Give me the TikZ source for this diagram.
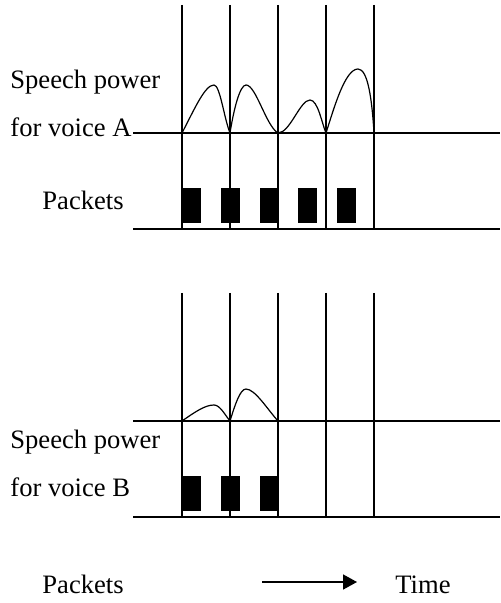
\documentclass[tikz,border=0pt]{standalone}
\usepackage{fontspec}
\setmainfont{Liberation Serif}
\usetikzlibrary{arrows.meta,positioning}
\tikzset{
 rule/.style={line width=0.6pt,draw=black},
 pulse/.style={line width=0.6pt,draw=black,line join=round},
 pkt/.style={fill=black,draw=none},
 lbl/.style={font=\fontsize{13.3}{15}\selectfont,inner sep=0pt,anchor=base west},
 arrow/.style={-{Triangle[length=7pt,width=7.5pt]},line width=0.8pt,draw=black}
}

\begin{document}
\begin{tikzpicture}[x=0.5pt,y=-0.5pt]
 \useasboundingbox (0,0) rectangle (500,603);
 % voice A
 \foreach \x in {182,230,278,326,374}
   \draw[rule] (\x,5) -- (\x,229);
 \draw[rule] (133,133) -- (500,133);
 \draw[rule] (133,229) -- (500,229);
 \foreach \x in {182,221,260,298,337}
   \fill[pkt] (\x,188) rectangle ++(19,35);
 \draw[pulse] (182,133) .. controls (195,108) and (205,85) .. (214,85)
   .. controls (220,85) and (224,118) .. (230,133);
 \draw[pulse] (230,133) .. controls (234,108) and (240,85) .. (246,85)
   .. controls (256,85) and (266,126) .. (278,133);
 \draw[pulse] (278,133) .. controls (290,133) and (300,100) .. (310,100)
   .. controls (318,100) and (322,124) .. (326,133);
 \draw[pulse] (326,133) .. controls (334,108) and (345,69) .. (358,69)
   .. controls (368,69) and (372,100) .. (374,133);
 \node[lbl] (powerA) at (10,89) {Speech power};
 \node[lbl] (voiceA) at (10,137) {for voice A};
 \node[lbl] (pktA) at (42,210) {Packets};
 % voice B
 \foreach \x in {182,230,278,326,374}
   \draw[rule] (\x,293) -- (\x,517);
 \draw[rule] (133,421) -- (500,421);
 \draw[rule] (133,517) -- (500,517);
 \foreach \x in {182,221,260}
   \fill[pkt] (\x,476) rectangle ++(19,35);
 \draw[pulse] (182,421) .. controls (195,412) and (205,405) .. (214,405)
   .. controls (220,405) and (225,415) .. (230,421);
 \draw[pulse] (230,421) .. controls (235,405) and (240,389) .. (246,389)
   .. controls (255,389) and (268,410) .. (278,421);
 \node[lbl] (powerB) at (10,448) {Speech power};
 \node[lbl] (voiceB) at (10,496) {for voice B};
 \node[lbl] (pktB) at (42,593) {Packets};
 % time axis
 \node[lbl] (time) at (395,593) {Time};
 \coordinate (tstart) at (262,582);
 \coordinate (tend) at (357,582);
 \draw[arrow] (tstart) -- (tend);
\end{tikzpicture}
\end{document}
